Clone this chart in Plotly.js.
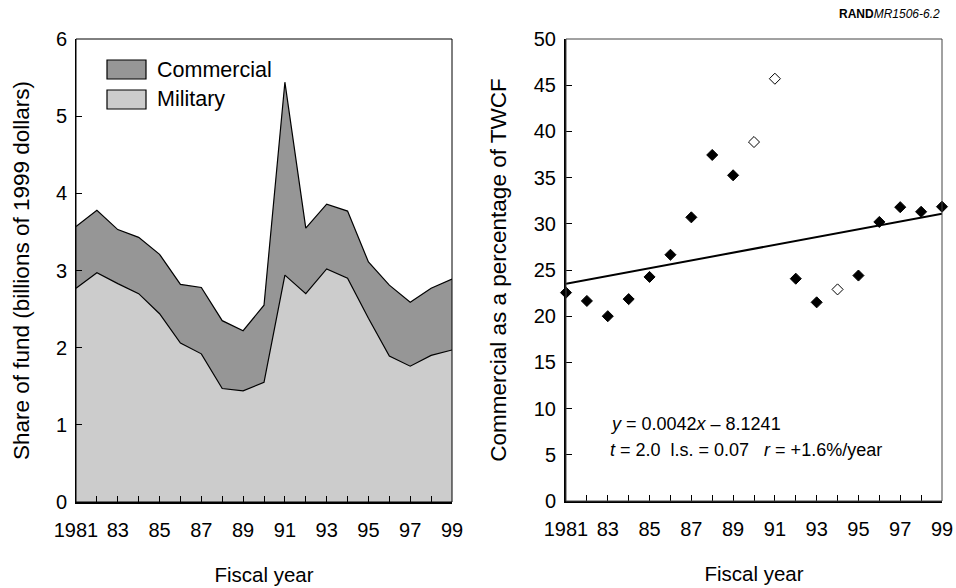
<!DOCTYPE html>
<html>
<head>
<meta charset="utf-8">
<script src="https://cdn.plot.ly/plotly-3.0.1.min.js"></script>
<style>body{margin:0;padding:0;background:#fff}#chart{width:956px;height:588px}</style>
</head>
<body>
<div id="chart"></div>
<script>
// ---- data ----
const years = [1981,1982,1983,1984,1985,1986,1987,1988,1989,1990,1991,1992,1993,1994,1995,1996,1997,1998,1999];
const military = [2.77,2.97,2.83,2.70,2.44,2.06,1.92,1.47,1.44,1.55,2.94,2.70,3.02,2.90,2.38,1.89,1.76,1.90,1.97];
const commercial = [0.80,0.81,0.70,0.73,0.77,0.76,0.86,0.88,0.78,1.00,2.50,0.85,0.84,0.87,0.73,0.92,0.83,0.87,0.92];
const seriesNames = ["Commercial", "Military"];
const pctValues = [22.55,21.65,20.0,21.85,24.25,26.65,30.7,37.45,35.25,38.85,45.7,24.06,21.5,22.9,24.4,30.2,31.8,31.3,31.85];
const openYears = [1990,1991,1994];
const trendYears = [1981,1999];
const trendValues = [23.5,31.1];
const tickYears = years;
const tickLabels = ["1981","","83","","85","","87","","89","","91","","93","","95","","97","","99"];
const leftYTicks = [0,1,2,3,4,5,6];
const rightYTicks = [0,5,10,15,20,25,30,35,40,45,50];
const eqLine1 = "<i>y</i> = 0.0042<i>x</i> \u2013 8.1241";
const eqLine2 = "<i>t</i> = 2.0&nbsp;&nbsp;l.s. = 0.07&nbsp;&nbsp;&nbsp;<i>r</i> = +1.6%/year";

const FONT = "Liberation Sans, Arial, sans-serif";
const colMil = "#cccccc", colCom = "#969696";

const traces = [
  {x: years, y: military, xaxis: "x", yaxis: "y", type: "scatter", mode: "lines",
   stackgroup: "a", fill: "tozeroy", fillcolor: colMil, line: {color: "#000", width: 1.2},
   name: seriesNames[1], showlegend: false, hoverinfo: "skip"},
  {x: years, y: commercial, xaxis: "x", yaxis: "y", type: "scatter", mode: "lines",
   stackgroup: "a", fill: "tonexty", fillcolor: colCom, line: {color: "#000", width: 1.2},
   name: seriesNames[0], showlegend: false, hoverinfo: "skip"},
  {x: trendYears, y: trendValues, xaxis: "x2", yaxis: "y2", type: "scatter", mode: "lines",
   line: {color: "#000", width: 2}, showlegend: false, hoverinfo: "skip", cliponaxis: false},
  {x: years, y: pctValues, xaxis: "x2", yaxis: "y2", type: "scatter", mode: "markers",
   marker: {symbol: "diamond", size: 8.5,
            color: years.map(y => openYears.includes(y) ? "#ffffff" : "#000000"),
            line: {color: "#000", width: 1}},
   showlegend: false, cliponaxis: false}
];

const xCommon = {
  range: [1981, 1999], tickmode: "array", tickvals: tickYears, ticktext: tickLabels,
  ticks: "inside", ticklen: 6, tickwidth: 1, tickcolor: "#000",
  showgrid: false, zeroline: false, showline: true, linecolor: "#000", linewidth: 2,
  tickfont: {family: FONT, size: 20, color: "#000"}, ticklabelstandoff: 9,
  title: {text: "Fiscal year", font: {family: FONT, size: 20.5, color: "#000"}, standoff: 28}
};

const layout = {
  width: 956, height: 588,
  margin: {l: 0, r: 0, t: 0, b: 0},
  paper_bgcolor: "#fff", plot_bgcolor: "rgba(0,0,0,0)",
  showlegend: false,
  font: {family: FONT, color: "#000"},
  xaxis: Object.assign({}, xCommon, {domain: [76/956, 452/956], anchor: "y"}),
  xaxis2: Object.assign({}, xCommon, {domain: [566/956, 942/956], anchor: "y2"}),
  yaxis: {
    domain: [(588-502)/588, (588-39)/588], anchor: "x", range: [0, 6],
    tickmode: "array", tickvals: leftYTicks, ticks: "inside", ticklen: 6, tickcolor: "#000",
    showgrid: false, zeroline: false, showline: true, linecolor: "#000", linewidth: 1,
    tickfont: {family: FONT, size: 20, color: "#000"}, ticklabelstandoff: 4,
    title: {text: "Share of fund (billions of 1999 dollars)", font: {family: FONT, size: 22.5, color: "#000"}, standoff: 20}
  },
  yaxis2: {
    domain: [(588-501)/588, (588-39)/588], anchor: "x2", range: [0, 50],
    tickmode: "array", tickvals: rightYTicks, ticks: "inside", ticklen: 6, tickcolor: "#000",
    showgrid: false, zeroline: false, showline: true, linecolor: "#000", linewidth: 2,
    tickfont: {family: FONT, size: 20, color: "#000"}, ticklabelstandoff: 4,
    title: {text: "Commercial as a percentage of TWCF", font: {family: FONT, size: 22.5, color: "#000"}, standoff: 21}
  },
  shapes: [
    {type: "rect", xref: "x domain", yref: "y domain", x0: 0, x1: 1, y0: 0, y1: 1, line: {color: "#000", width: 1}, layer: "above"},
    {type: "rect", xref: "x2 domain", yref: "y2 domain", x0: 0, x1: 1, y0: 0, y1: 1, line: {color: "#444", width: 1}, layer: "above"},
    {type: "rect", xref: "x domain", yref: "y domain", x0: 31/376, x1: 70/376, y0: 1-40/463, y1: 1-21/463, fillcolor: colCom, line: {color: "#000", width: 1.2}},
    {type: "rect", xref: "x domain", yref: "y domain", x0: 31/376, x1: 70/376, y0: 1-70/463, y1: 1-51/463, fillcolor: colMil, line: {color: "#000", width: 1.2}}
  ],
  annotations: [
    {xref: "x domain", yref: "y domain", x: 79/376, y: 1-30.5/463, text: seriesNames[0], showarrow: false, xanchor: "left", yanchor: "middle", font: {family: FONT, size: 21.5, color: "#000"}},
    {xref: "x domain", yref: "y domain", x: 79/376, y: 1-60.5/463, text: seriesNames[1], showarrow: false, xanchor: "left", yanchor: "middle", font: {family: FONT, size: 21.5, color: "#000"}},
    {xref: "x2 domain", yref: "y2 domain", x: 42/376, y: 1-385/462, text: eqLine1, showarrow: false, xanchor: "left", yanchor: "middle", font: {family: FONT, size: 18, color: "#000"}},
    {xref: "x2 domain", yref: "y2 domain", x: 42/376, y: 1-411/462, text: eqLine2, showarrow: false, xanchor: "left", yanchor: "middle", font: {family: FONT, size: 18, color: "#000"}},
    {xref: "paper", yref: "paper", x: 942/956, y: 1-14/588, text: "<b>RAND</b><i>MR1506-6.2</i>", showarrow: false, xanchor: "right", yanchor: "middle", font: {family: FONT, size: 12, color: "#000"}}
  ]
};

Plotly.newPlot("chart", traces, layout, {staticPlot: true, displayModeBar: false});
</script>
</body>
</html>
